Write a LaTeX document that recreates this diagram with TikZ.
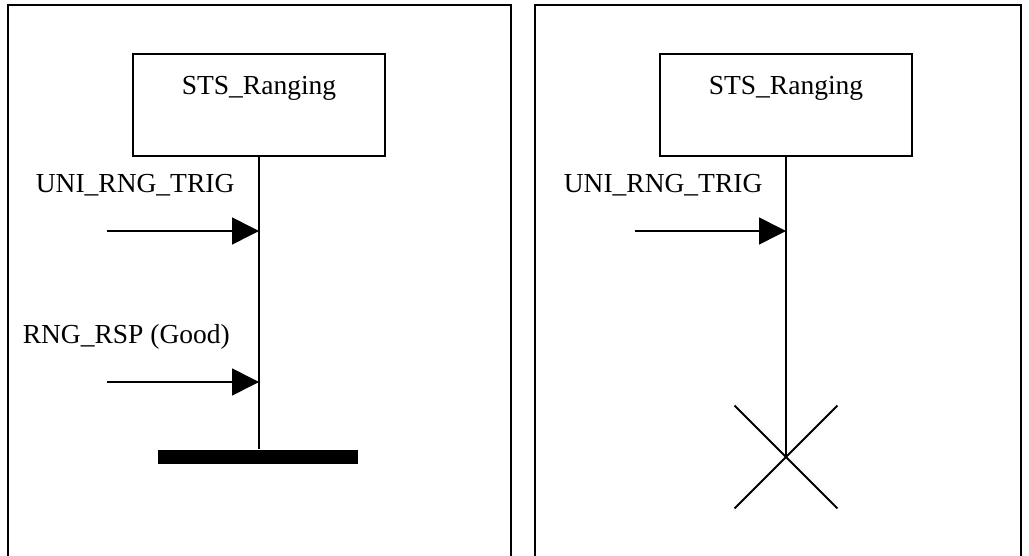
\documentclass[tikz,border=0pt]{standalone}
\usepackage{fontspec}
\setmainfont{Liberation Serif}
\usetikzlibrary{arrows.meta, positioning, shapes.misc}

\tikzset{
    msc/.style={x=1pt, y=-1pt, line width=1.6pt, font=\fontsize{27.5}{33}\selectfont},
    procbox/.style={draw, rectangle, inner sep=0pt, minimum width=252pt, text height=41pt, text depth=61pt},
    msglabel/.style={anchor=base west, inner sep=0pt},
    msgarrow/.style={-{Triangle[length=27pt, width=27pt]}},
    stopbar/.style={fill=black, inner sep=0pt, minimum width=200pt, minimum height=14pt},
    stopcross/.style={draw, cross out, inner sep=0pt, minimum size=101pt, line width=1.8pt}
}

\begin{document}
\begin{tikzpicture}[msc]
    \useasboundingbox (0,0) rectangle (1029,556);
    % frames
    \draw (8,556) |- (511,5) -- (511,556);
    \draw (535,556) |- (1021,5) -- (1021,556);

    % left: ranging completes
    \node[procbox] (lbox) at (259,105) {STS\_Ranging};
    \node[stopbar] (lbar) at (258,457) {};
    \draw (lbox.south) -- (lbox.south |- lbar.north);
    \node[msglabel] (ltrig) at (35,193) {UNI\_RNG\_TRIG};
    \coordinate (ltrigin) at (107,231);
    \draw[msgarrow] (ltrigin) -- (lbox.south |- ltrigin);
    \node[msglabel] (lrsp) at (22,343) {RNG\_RSP (Good)};
    \coordinate (lrspin) at (107,382);
    \draw[msgarrow] (lrspin) -- (lbox.south |- lrspin);

    % right: ranging stopped
    \node[procbox] (rbox) at (786,105) {STS\_Ranging};
    \node[stopcross] (rstop) at (786,457) {};
    \draw (rbox) -- (rstop.center);
    \node[msglabel] (rtrig) at (563,193) {UNI\_RNG\_TRIG};
    \coordinate (rtrigin) at (635,231);
    \draw[msgarrow] (rtrigin) -- (rbox.south |- rtrigin);
\end{tikzpicture}
\end{document}
